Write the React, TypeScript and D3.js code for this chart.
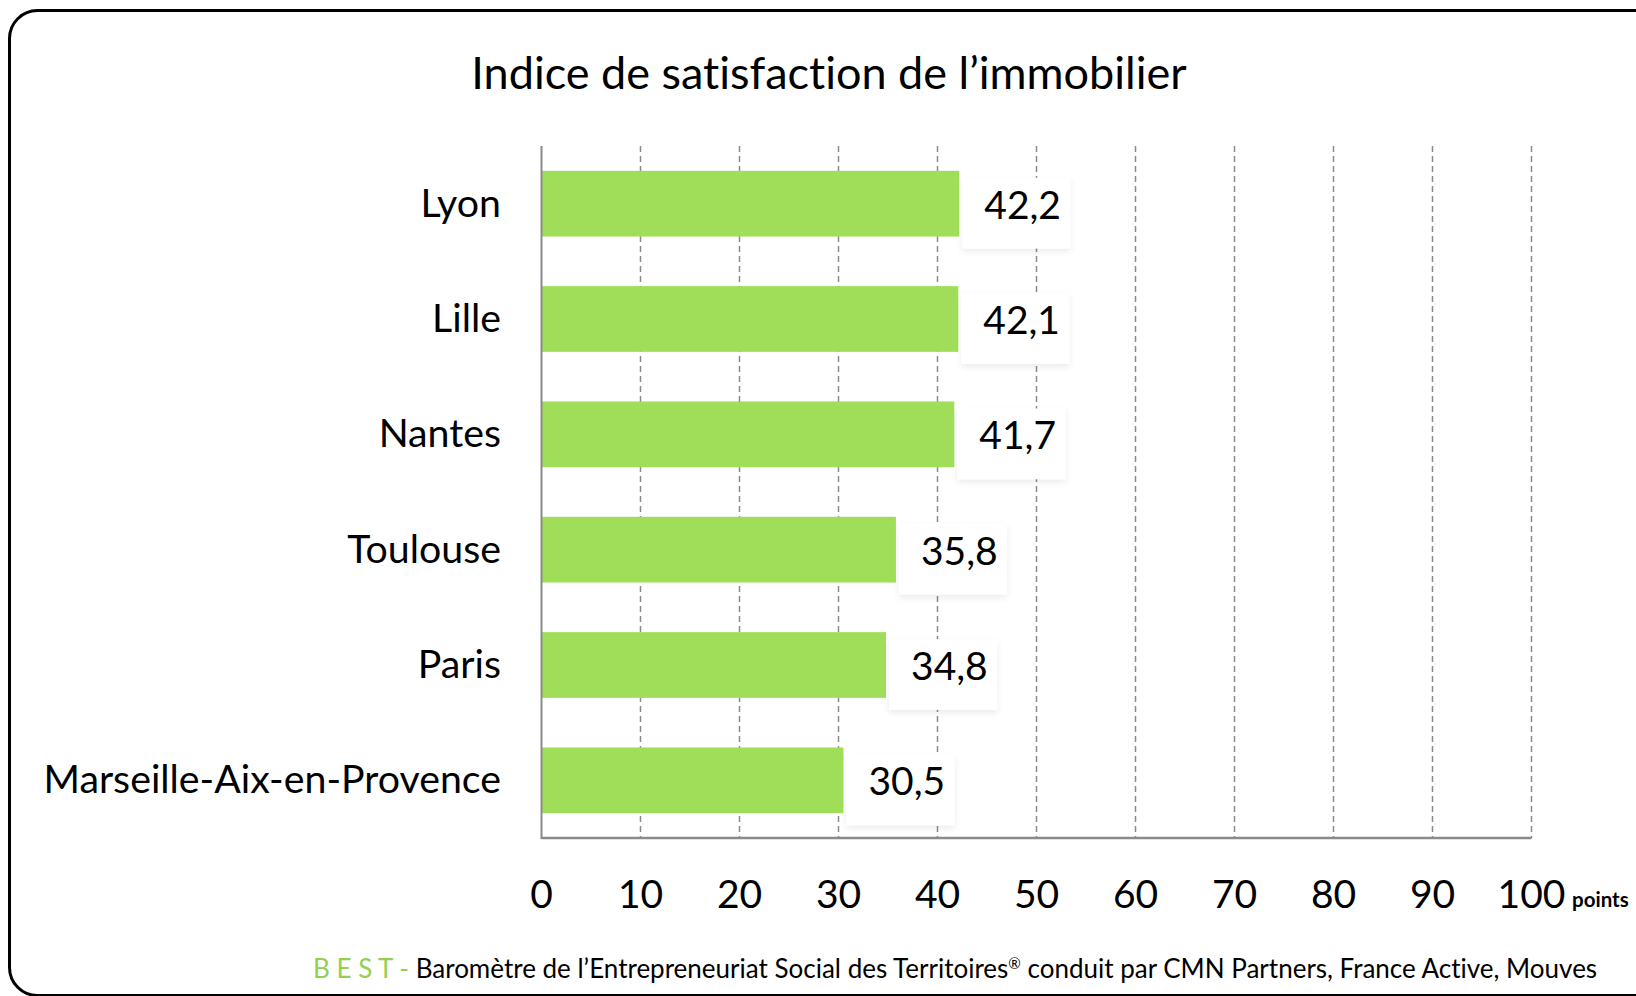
import React from "react";
import * as d3 from "d3";

const TITLE = "Indice de satisfaction de l\u2019immobilier";
const categories = ["Lyon", "Lille", "Nantes", "Toulouse", "Paris", "Marseille-Aix-en-Provence"];
const values = [42.2, 42.1, 41.7, 35.8, 34.8, 30.5];
const ticks = [0, 10, 20, 30, 40, 50, 60, 70, 80, 90, 100];
const UNIT = "points";
const FOOT_GREEN = "B E S T - ";
const FOOT_TEXT_A = "Barom\u00e8tre de l\u2019Entrepreneuriat Social des Territoires";
const FOOT_REG = "\u00ae";
const FOOT_TEXT_B = " conduit par CMN Partners, France Active, Mouves";

const W = 1636;
const H = 996;
const FONT = "Lato, 'Open Sans', sans-serif";
const noLig = { fontVariantLigatures: "none" as const };

export default function App() {
  const x = d3.scaleLinear().domain([0, 100]).range([541.5, 1531.5]);
  const y = d3.scaleBand<string>().domain(categories).range([146, 838]).paddingInner(0.43).paddingOuter(0.215);
  const fmt = (v: number) => d3.format(".1f")(v).replace(".", ",");
  const bw = y.bandwidth();

  return (
    <svg width={W} height={H} style={{ position: "absolute", left: 0, top: 0, background: "#fff" }}>
      <defs>
        <filter id="sh" x="-20%" y="-20%" width="140%" height="160%">
          <feDropShadow dx="0" dy="3" stdDeviation="3" floodColor="#000" floodOpacity="0.08" />
        </filter>
      </defs>
      <rect x={9.5} y={10.5} width={1660} height={985} rx={28} fill="#fff" stroke="#000" strokeWidth={3} />
      <text x={829} y={89} textAnchor="middle" fontFamily={FONT} fontSize={45} fill="#000" style={noLig}>
        {TITLE}
      </text>
      {/* gridlines */}
      {ticks.slice(1).map((t) => (
        <line key={t} x1={x(t)} x2={x(t)} y1={146} y2={838} stroke="#8a8a8a" strokeWidth={1.5} strokeDasharray="6,4" />
      ))}
      {/* bars */}
      {categories.map((c, i) => (
        <rect key={c} x={x(0)} y={y(c)} width={x(values[i]) - x(0)} height={bw} fill="#a0de5a" />
      ))}
      {/* axes */}
      <line x1={x(0)} x2={x(0)} y1={146} y2={839} stroke="#8a8a8a" strokeWidth={2} />
      <line x1={x(0)} x2={x(100)} y1={838} y2={838} stroke="#8a8a8a" strokeWidth={2.5} />
      {/* value labels */}
      {categories.map((c, i) => {
        const x0 = x(values[i]) + 3;
        const yc = (y(c) as number) + bw / 2;
        return (
          <g key={c}>
            <rect x={x0} y={yc - bw / 2 + 7} width={108} height={bw + 5} fill="#fff" filter="url(#sh)" />
            <text x={x0 + 22} y={yc + 15} fontFamily={FONT} fontSize={39} fill="#000">
              {fmt(values[i])}
            </text>
          </g>
        );
      })}
      {/* category labels */}
      {categories.map((c) => (
        <text key={c} x={501} y={(y(c) as number) + bw / 2 + 13} textAnchor="end" fontFamily={FONT} fontSize={39.3} fill="#000" style={noLig}>
          {c}
        </text>
      ))}
      {/* tick labels */}
      {ticks.map((t) => (
        <text key={t} x={x(t)} y={908} textAnchor="middle" fontFamily={FONT} fontSize={39} fill="#000">
          {t}
        </text>
      ))}
      <text x={1572} y={907} fontFamily={FONT} fontSize={20.5} fontWeight="bold" fill="#000">
        {UNIT}
      </text>
      <text x={313} y={978} fontFamily={FONT} fontSize={26} fill="#000" style={noLig}>
        <tspan fill="#92d050">{FOOT_GREEN}</tspan>
        <tspan>{FOOT_TEXT_A}</tspan>
        <tspan fontSize={15} dy={-9}>{FOOT_REG}</tspan>
        <tspan dy={9}>{FOOT_TEXT_B}</tspan>
      </text>
    </svg>
  );
}
